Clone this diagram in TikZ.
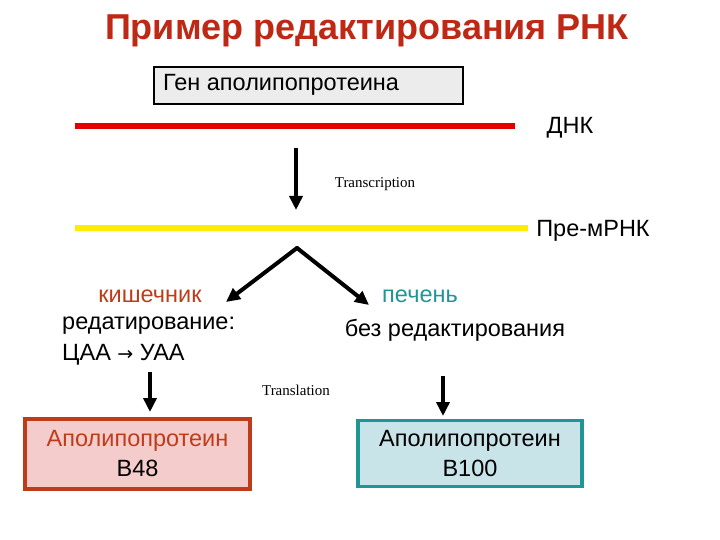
\documentclass[tikz,border=0pt]{standalone}
\usetikzlibrary{arrows.meta}
\usepackage{fontspec}
\setmainfont{Liberation Sans}
\newfontfamily\dv{DejaVu Sans}
\newfontfamily\serifsmall{Liberation Serif}
\definecolor{titlered}{RGB}{190,40,20}
\definecolor{brick}{RGB}{190,60,25}
\definecolor{tealc}{RGB}{30,150,150}
\definecolor{pinkf}{RGB}{244,204,204}
\definecolor{bluef}{RGB}{200,228,232}
\begin{document}
\begin{tikzpicture}[x=1pt,y=-1pt,
  lbl/.style={font=\fontsize{23.5}{26}\selectfont, inner sep=0pt},
  small/.style={font=\serifsmall\fontsize{15}{16}\selectfont, inner sep=0pt},
  arr/.style={-{Triangle[length=14pt,width=13pt]}, line width=4pt},
  every node/.style={inner sep=0pt}]
\useasboundingbox (0,0) rectangle (720,540);
\node[font=\bfseries\fontsize{36}{40}\selectfont, text=titlered] (title) at (367,31) {Пример редактирования РНК};
\node[draw, line width=2pt, fill=gray!15, minimum width=309pt, minimum height=37pt, anchor=north west] (gene) at (153,66) {};
\node[lbl, anchor=west] (genet) at (163,85) {Ген аполипопротеина};
\coordinate (d1) at (75,126); \coordinate (d2) at (515,126);
\draw[red!90!black, line width=6pt] (d1) -- (d2);
\node[lbl] (dna) at (570,128) {ДНК};
\coordinate (t1) at (296,148); \coordinate (t2) at (296,210);
\draw[arr] (t1) -- (t2);
\node[small] (tr) at (375,184) {Transcription};
\coordinate (r1) at (75,228); \coordinate (r2) at (528,228);
\draw[yellow!95!orange, line width=6pt] (r1) -- (r2);
\node[lbl] (pre) at (593,231) {Пре-мРНК};
\coordinate (apex) at (297,248);
\coordinate (la) at (226,302); \coordinate (ra) at (369,305);
\draw[arr, line cap=round] (apex) -- (la);
\draw[arr, line cap=round] (apex) -- (ra);
\node[lbl, text=brick] (int) at (150,296) {кишечник};
\node[lbl, text=tealc] (liv) at (420,296) {печень};
\node[lbl, anchor=west] (ed) at (62,326) {редатирование:};
\node[lbl, anchor=west] (caa) at (62,355) {ЦАА {\dv\fontsize{19}{20}\selectfont →} УАА};
\node[lbl] (noed) at (455,330) {без редактирования};
\coordinate (a1) at (150,372); \coordinate (a2) at (150,412);
\draw[arr] (a1) -- (a2);
\coordinate (b1) at (443,376); \coordinate (b2) at (443,416);
\draw[arr] (b1) -- (b2);
\node[small] (tl) at (296,390) {Translation};
\node[draw=brick, line width=4pt, fill=pinkf, minimum width=225pt, minimum height=70pt, align=center, font=\fontsize{23.5}{30}\selectfont] (b48) at (137.5,454) {\textcolor{brick}{Аполипопротеин}\\B48};
\node[draw=tealc, line width=3.5pt, fill=bluef, minimum width=224pt, minimum height=66pt, align=center, font=\fontsize{23.5}{30}\selectfont] (b100) at (470,453.5) {Аполипопротеин\\B100};
\end{tikzpicture}
\end{document}
